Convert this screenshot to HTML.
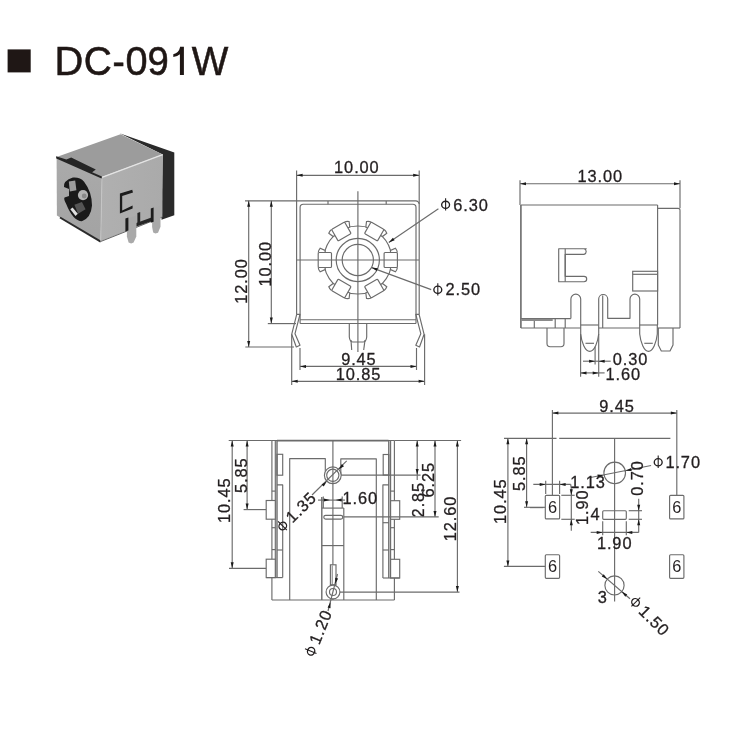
<!DOCTYPE html>
<html><head><meta charset="utf-8"><style>
html,body{margin:0;padding:0;background:#fff;}
svg{display:block;will-change:transform;font-family:"Liberation Sans",sans-serif;}
</style></head><body>
<svg width="750" height="750" viewBox="0 0 750 750">
<rect width="750" height="750" fill="#fff"/>
<rect x="7.6" y="49.4" width="23.1" height="23" fill="#1f1715"/>
<text transform="translate(57.7,75.1) scale(0.9819,1)" x="-3.33" y="0" font-size="40.6" fill="#1f1715" stroke="#1f1715" stroke-width="0.55">D</text>
<text transform="translate(85.7,75.1) scale(0.9572,1)" x="-2.07" y="0" font-size="40.6" fill="#1f1715" stroke="#1f1715" stroke-width="0.55">C</text>
<text transform="translate(114,75.1) scale(0.9048,1)" x="-1.79" y="0" font-size="40.6" fill="#1f1715" stroke="#1f1715" stroke-width="0.55">-</text>
<text transform="translate(127,75.1) scale(0.9790,1)" x="-1.58" y="0" font-size="40.6" fill="#1f1715" stroke="#1f1715" stroke-width="0.55">0</text>
<text transform="translate(149.3,75.1) scale(0.9436,1)" x="-1.91" y="0" font-size="40.6" fill="#1f1715" stroke="#1f1715" stroke-width="0.55">9</text>
<text transform="translate(192,75.1) scale(0.9552,1)" x="-0.16" y="0" font-size="40.6" fill="#1f1715" stroke="#1f1715" stroke-width="0.55">W</text>
<path d="M179.9,46.8 H183.9 V75.1 H179.9 V54.3 Q177.6,56.6 173.3,57 V54.2 Q178.9,53 180.1,47 Z" fill="#1f1715"/>
<defs>
<linearGradient id="gf" x1="0" y1="0" x2="0" y2="1"><stop offset="0" stop-color="#aaaaaa"/><stop offset="1" stop-color="#a3a3a3"/></linearGradient>
<linearGradient id="gr" x1="0" y1="0" x2="1" y2="0"><stop offset="0" stop-color="#b0b0b0"/><stop offset="1" stop-color="#aaaaaa"/></linearGradient>
</defs><g>
<polygon points="119.5,133.3 174.3,152.5 174.3,215.2 161.5,219.8 162.7,154.5" fill="#2a2a2a"/>
<polygon points="56.6,157.1 120.5,134.3 162.7,154.5 102,177" fill="#9c9c9c"/>
<polygon points="56.6,157.1 102,177 100.7,241.3 56.9,215.5" fill="url(#gf)"/>
<polygon points="102,177 162.7,154.5 162.4,216.8 100.7,241.3" fill="url(#gr)"/>
<line x1="102" y1="177.3" x2="162.7" y2="154.7" stroke="#e4e4e4" stroke-width="1.3"/>
<line x1="60" y1="217.5" x2="100.7" y2="241.6" stroke="#2a2a2a" stroke-width="2"/>
<line x1="100.7" y1="241.5" x2="162.4" y2="217" stroke="#666" stroke-width="1"/>
<line x1="102" y1="177.5" x2="100.7" y2="241.3" stroke="#c6c6c6" stroke-width="0.8"/>
<polygon points="56,156.3 66.4,159.4 71.2,157.4 95.8,169.4 92.2,172.2 102,176.6 101.5,178.6 56.3,158.6" fill="#252525"/>
<path d="M72.9,177.6 Q80,177 84.1,181.7 Q92,192 92,205.6 Q91,218 81.9,221.3 Q73,221 66.2,204 Q63.5,199 64.5,197.4 L69,196 L69,189 L64,187 Q63,181 72.9,177.6 Z" fill="#1a1a1a"/>
<polygon points="68.8,181.6 75.2,180.4 76.4,190.2 69.8,191.4" fill="#9c9c9c"/>
<circle cx="83" cy="195.1" r="5.1" fill="#b4b4b4"/>
<circle cx="84.2" cy="196" r="2.4" fill="#8a8a8a"/>
<polygon points="74.4,204.8 81.9,201.9 85.6,209.3 78.1,213.8" fill="#555"/>
<polygon points="70.3,209.3 72.6,207.4 77.8,213.8 75.5,216" fill="#e0e0e0"/>
<polygon points="119.9,193.4 132.2,189.8 133,192.6 122.2,196 122.2,210.4 132.6,205.6 132.6,208.6 119.9,213.6" fill="#1c1c1c"/>
<polygon points="136.3,223 152.1,217.2 152.1,221 136.3,226.6" fill="#262626"/>
<polygon points="137.4,213 140.2,212 140.2,223.6 137.4,224.6" fill="#262626"/>
<polygon points="126.9,219 136.3,215.6 136.3,236.4 133.6,242.6 131.1,243.6 128.6,242.4 126.9,236.4" fill="#a9a9a9"/>
<polygon points="125.4,218.6 128.4,217.6 128.4,230.6 125.4,231.6" fill="#1c1c1c"/>
<polygon points="152.1,209 160.5,206 160.5,226.8 158,232.8 155.4,233.6 153.2,232.4 152.1,226.8" fill="#a9a9a9"/>
<polygon points="150.8,208.6 153.6,207.6 153.6,221.8 150.8,222.8" fill="#1c1c1c"/>
</g>
<line x1="296.6" y1="170.5" x2="296.6" y2="201" stroke="#6b6b6b" stroke-width="1.15"/>
<line x1="419.2" y1="170.5" x2="419.2" y2="204" stroke="#6b6b6b" stroke-width="1.15"/>
<line x1="296.6" y1="175.3" x2="419.2" y2="175.3" stroke="#6b6b6b" stroke-width="1.15"/>
<polygon points="296.60,175.30 302.60,173.80 302.60,176.80" fill="#1a1a1a"/>
<polygon points="419.20,175.30 413.20,176.80 413.20,173.80" fill="#1a1a1a"/>
<text x="334.10" y="172.55" font-size="16.4" letter-spacing="0.9" fill="#231f20" stroke="#231f20" stroke-width="0.3">10.00</text>
<path d="M245,200.8 H415.7 A3.5,3.5 0 0 1 419.2,204.3 V314.3" fill="none" stroke="#6b6b6b" stroke-width="1.15" stroke-linejoin="round"/>
<line x1="296.6" y1="200.8" x2="296.6" y2="314.3" stroke="#6b6b6b" stroke-width="1.15"/>
<path d="M300.1,323.5 V207.4 A3.2,3.2 0 0 1 303.3,204.2 H412.8 A3.2,3.2 0 0 1 416,207.4 V323.5" fill="none" stroke="#6b6b6b" stroke-width="1.15" stroke-linejoin="round"/>
<line x1="300.1" y1="319.7" x2="416" y2="319.7" stroke="#6b6b6b" stroke-width="1.15"/>
<line x1="300.1" y1="323.5" x2="416" y2="323.5" stroke="#6b6b6b" stroke-width="1.15"/>
<line x1="328" y1="201" x2="328" y2="204.2" stroke="#6b6b6b" stroke-width="1.15"/>
<line x1="386.2" y1="201" x2="386.2" y2="204.2" stroke="#6b6b6b" stroke-width="1.15"/>
<polygon points="296.7,314.3 300,314.3 295,333.7 300,345.3 296.3,347 291.7,334.3" fill="none" stroke="#6b6b6b" stroke-width="1.15" stroke-linejoin="round"/>
<polygon points="419.1,314.3 415.8,314.3 420.8,333.7 415.8,345.3 419.5,347 424.1,334.3" fill="none" stroke="#6b6b6b" stroke-width="1.15" stroke-linejoin="round"/>
<line x1="267.8" y1="323.6" x2="296" y2="323.6" stroke="#6b6b6b" stroke-width="1.15"/>
<line x1="245.3" y1="347" x2="294" y2="347" stroke="#6b6b6b" stroke-width="1.15"/>
<line x1="248.7" y1="200.8" x2="248.7" y2="347" stroke="#6b6b6b" stroke-width="1.15"/>
<polygon points="248.70,200.80 250.20,206.80 247.20,206.80" fill="#1a1a1a"/>
<polygon points="248.70,347.00 247.20,341.00 250.20,341.00" fill="#1a1a1a"/>
<line x1="271.3" y1="200.8" x2="271.3" y2="323.6" stroke="#6b6b6b" stroke-width="1.15"/>
<polygon points="271.30,200.80 272.80,206.80 269.80,206.80" fill="#1a1a1a"/>
<polygon points="271.30,323.60 269.80,317.60 272.80,317.60" fill="#1a1a1a"/>
<g transform="translate(241.2,281.1) rotate(-90)">
<text x="-22.62" y="5.72" font-size="16.4" letter-spacing="0.9" fill="#231f20" stroke="#231f20" stroke-width="0.3">12.00</text>
</g>
<g transform="translate(265.1,263.8) rotate(-90)">
<text x="-22.62" y="5.72" font-size="16.4" letter-spacing="0.9" fill="#231f20" stroke="#231f20" stroke-width="0.3">10.00</text>
</g>
<path d="M349.3,323.5 V337 Q349.8,342 353,342 H363 Q366.2,342 366.7,337 V323.5" fill="none" stroke="#6b6b6b" stroke-width="1.15" stroke-linejoin="round"/>
<line x1="351" y1="340" x2="351.7" y2="350" stroke="#6b6b6b" stroke-width="1.15"/>
<line x1="365" y1="340" x2="363.7" y2="350" stroke="#6b6b6b" stroke-width="1.15"/>
<circle cx="357.8" cy="260" r="34" fill="none" stroke="#6b6b6b" stroke-width="1.15"/>
<circle cx="357.8" cy="260" r="21.6" fill="none" stroke="#6b6b6b" stroke-width="1.15"/>
<circle cx="357.8" cy="260" r="15.6" fill="none" stroke="#6b6b6b" stroke-width="1.15"/>
<g transform="translate(357.8,260) rotate(0)"><path d="M32.7,-9.6 L37.7,-11.7 Q40.5,0 37.7,11.7 L32.7,9.6 Z" fill="#fff" stroke="none"/><path d="M32.7,-7.5 V-9.6 L37.7,-11.7 Q39.3,-9.8 39.6,-7.5 M32.7,7.5 V9.6 L37.7,11.7 Q39.3,9.8 39.6,7.5" fill="#fff" stroke="#6b6b6b" stroke-width="1.15"/><rect x="26.3" y="-7.5" width="13.3" height="15" rx="1" fill="#fff" stroke="#6b6b6b" stroke-width="1.15"/></g>
<g transform="translate(357.8,260) rotate(60)"><path d="M32.7,-9.6 L37.7,-11.7 Q40.5,0 37.7,11.7 L32.7,9.6 Z" fill="#fff" stroke="none"/><path d="M32.7,-7.5 V-9.6 L37.7,-11.7 Q39.3,-9.8 39.6,-7.5 M32.7,7.5 V9.6 L37.7,11.7 Q39.3,9.8 39.6,7.5" fill="#fff" stroke="#6b6b6b" stroke-width="1.15"/><rect x="26.3" y="-7.5" width="13.3" height="15" rx="1" fill="#fff" stroke="#6b6b6b" stroke-width="1.15"/></g>
<g transform="translate(357.8,260) rotate(120)"><path d="M32.7,-9.6 L37.7,-11.7 Q40.5,0 37.7,11.7 L32.7,9.6 Z" fill="#fff" stroke="none"/><path d="M32.7,-7.5 V-9.6 L37.7,-11.7 Q39.3,-9.8 39.6,-7.5 M32.7,7.5 V9.6 L37.7,11.7 Q39.3,9.8 39.6,7.5" fill="#fff" stroke="#6b6b6b" stroke-width="1.15"/><rect x="26.3" y="-7.5" width="13.3" height="15" rx="1" fill="#fff" stroke="#6b6b6b" stroke-width="1.15"/></g>
<g transform="translate(357.8,260) rotate(180)"><path d="M32.7,-9.6 L37.7,-11.7 Q40.5,0 37.7,11.7 L32.7,9.6 Z" fill="#fff" stroke="none"/><path d="M32.7,-7.5 V-9.6 L37.7,-11.7 Q39.3,-9.8 39.6,-7.5 M32.7,7.5 V9.6 L37.7,11.7 Q39.3,9.8 39.6,7.5" fill="#fff" stroke="#6b6b6b" stroke-width="1.15"/><rect x="26.3" y="-7.5" width="13.3" height="15" rx="1" fill="#fff" stroke="#6b6b6b" stroke-width="1.15"/></g>
<g transform="translate(357.8,260) rotate(240)"><path d="M32.7,-9.6 L37.7,-11.7 Q40.5,0 37.7,11.7 L32.7,9.6 Z" fill="#fff" stroke="none"/><path d="M32.7,-7.5 V-9.6 L37.7,-11.7 Q39.3,-9.8 39.6,-7.5 M32.7,7.5 V9.6 L37.7,11.7 Q39.3,9.8 39.6,7.5" fill="#fff" stroke="#6b6b6b" stroke-width="1.15"/><rect x="26.3" y="-7.5" width="13.3" height="15" rx="1" fill="#fff" stroke="#6b6b6b" stroke-width="1.15"/></g>
<g transform="translate(357.8,260) rotate(300)"><path d="M32.7,-9.6 L37.7,-11.7 Q40.5,0 37.7,11.7 L32.7,9.6 Z" fill="#fff" stroke="none"/><path d="M32.7,-7.5 V-9.6 L37.7,-11.7 Q39.3,-9.8 39.6,-7.5 M32.7,7.5 V9.6 L37.7,11.7 Q39.3,9.8 39.6,7.5" fill="#fff" stroke="#6b6b6b" stroke-width="1.15"/><rect x="26.3" y="-7.5" width="13.3" height="15" rx="1" fill="#fff" stroke="#6b6b6b" stroke-width="1.15"/></g>
<line x1="357.9" y1="191.3" x2="357.9" y2="352" stroke="#6b6b6b" stroke-width="1.15"/>
<line x1="296.7" y1="260" x2="419" y2="260" stroke="#6b6b6b" stroke-width="1.15"/>
<line x1="438.4" y1="208.8" x2="388.8" y2="242.4" stroke="#6b6b6b" stroke-width="1.15"/>
<polygon points="388.80,242.40 392.93,237.79 394.61,240.28" fill="#1a1a1a"/>
<line x1="431.2" y1="289.6" x2="371.6" y2="267.6" stroke="#6b6b6b" stroke-width="1.15"/>
<polygon points="371.60,267.60 377.75,268.27 376.71,271.08" fill="#1a1a1a"/>
<ellipse cx="445.60" cy="204.80" rx="3.95" ry="3.6" fill="none" stroke="#231f20" stroke-width="1.35"/>
<line x1="445.60" y1="198.20" x2="445.60" y2="210.60" stroke="#231f20" stroke-width="1.1"/>
<text x="453.16" y="210.65" font-size="16.4" letter-spacing="0.9" fill="#231f20" stroke="#231f20" stroke-width="0.3">6.30</text>
<ellipse cx="437.80" cy="289.80" rx="3.95" ry="3.6" fill="none" stroke="#231f20" stroke-width="1.35"/>
<line x1="437.80" y1="283.20" x2="437.80" y2="295.60" stroke="#231f20" stroke-width="1.1"/>
<text x="445.48" y="295.45" font-size="16.4" letter-spacing="0.9" fill="#231f20" stroke="#231f20" stroke-width="0.3">2.50</text>
<line x1="300" y1="348" x2="300" y2="370" stroke="#6b6b6b" stroke-width="1.15"/>
<line x1="416.5" y1="348" x2="416.5" y2="370" stroke="#6b6b6b" stroke-width="1.15"/>
<line x1="291.7" y1="334.3" x2="291.7" y2="385" stroke="#6b6b6b" stroke-width="1.15"/>
<line x1="424.6" y1="334.3" x2="424.6" y2="385" stroke="#6b6b6b" stroke-width="1.15"/>
<line x1="300" y1="366.4" x2="416.5" y2="366.4" stroke="#6b6b6b" stroke-width="1.15"/>
<polygon points="300.00,366.40 306.00,364.90 306.00,367.90" fill="#1a1a1a"/>
<polygon points="416.50,366.40 410.50,367.90 410.50,364.90" fill="#1a1a1a"/>
<line x1="291.7" y1="381.3" x2="424.6" y2="381.3" stroke="#6b6b6b" stroke-width="1.15"/>
<polygon points="291.70,381.30 297.70,379.80 297.70,382.80" fill="#1a1a1a"/>
<polygon points="424.60,381.30 418.60,382.80 418.60,379.80" fill="#1a1a1a"/>
<text x="341.13" y="365.15" font-size="16.4" letter-spacing="0.9" fill="#231f20" stroke="#231f20" stroke-width="0.3">9.45</text>
<text x="335.80" y="380.05" font-size="16.4" letter-spacing="0.9" fill="#231f20" stroke="#231f20" stroke-width="0.3">10.85</text>
<line x1="520" y1="180.3" x2="520" y2="205" stroke="#6b6b6b" stroke-width="1.15"/>
<line x1="680" y1="180.3" x2="680" y2="208.3" stroke="#6b6b6b" stroke-width="1.15"/>
<line x1="520" y1="183.7" x2="680" y2="183.7" stroke="#6b6b6b" stroke-width="1.15"/>
<polygon points="520.00,183.70 526.00,182.20 526.00,185.20" fill="#1a1a1a"/>
<polygon points="680.00,183.70 674.00,185.20 674.00,182.20" fill="#1a1a1a"/>
<text x="577.50" y="182.15" font-size="16.4" letter-spacing="0.9" fill="#231f20" stroke="#231f20" stroke-width="0.3">13.00</text>
<line x1="520.9" y1="205" x2="657.6" y2="205" stroke="#6b6b6b" stroke-width="1.15"/>
<line x1="520.9" y1="205" x2="520.9" y2="328" stroke="#6b6b6b" stroke-width="1.6"/>
<line x1="657.6" y1="205" x2="657.6" y2="325" stroke="#6b6b6b" stroke-width="1.15"/>
<path d="M657.6,208.3 H678 Q680,208.3 680,210.3 V328" fill="none" stroke="#6b6b6b" stroke-width="1.15" stroke-linejoin="round"/>
<path d="M586.7,248.7 H558.7 V281.7 H584 A2.7,2.7 0 0 0 584,276.3 H565.2 V254.4 H584 A2.95,2.95 0 0 0 584,248.7" fill="none" stroke="#6b6b6b" stroke-width="1.15" stroke-linejoin="round"/>
<line x1="565.2" y1="248.7" x2="565.2" y2="281.7" stroke="#6b6b6b" stroke-width="1.15"/>
<rect x="632.7" y="271.3" width="24.90" height="19.70" rx="0" fill="none" stroke="#6b6b6b" stroke-width="1.15"/>
<line x1="632.7" y1="274.3" x2="657.6" y2="274.3" stroke="#6b6b6b" stroke-width="1.15"/>
<line x1="520.9" y1="318.6" x2="570.9" y2="318.6" stroke="#6b6b6b" stroke-width="1.15"/>
<rect x="521" y="318.8" width="31.7" height="2.2" fill="#8a8a8a"/>
<line x1="534.3" y1="321" x2="534.3" y2="328" stroke="#6b6b6b" stroke-width="1.15"/>
<line x1="555.2" y1="318.6" x2="555.2" y2="328" stroke="#6b6b6b" stroke-width="1.15"/>
<line x1="565.2" y1="318.6" x2="565.2" y2="328" stroke="#6b6b6b" stroke-width="1.15"/>
<line x1="520.9" y1="328" x2="580.7" y2="328" stroke="#6b6b6b" stroke-width="1.15"/>
<line x1="598.7" y1="328" x2="639.7" y2="328" stroke="#6b6b6b" stroke-width="1.15"/>
<line x1="657.3" y1="328" x2="680" y2="328" stroke="#6b6b6b" stroke-width="1.15"/>
<path d="M570.9,318.6 V299 A4.9,4.9 0 0 1 580.7,299 V334 C581.5,342 585,351.3 589.7,351.3 C594.4,351.3 597.9,342 598.7,334 V299 A4.5,4.5 0 0 1 607.7,299 V318.3 H630 V299 A4.85,4.85 0 0 1 639.7,299 V334 C640.5,342 644,351.3 648.5,351.3 C653,351.3 656.5,342 657.3,334 V325" fill="none" stroke="#6b6b6b" stroke-width="1.15" stroke-linejoin="round"/>
<line x1="580.7" y1="325" x2="598.7" y2="325" stroke="#6b6b6b" stroke-width="1.15"/>
<line x1="639.7" y1="325" x2="657.6" y2="325" stroke="#6b6b6b" stroke-width="1.15"/>
<line x1="602.7" y1="295.5" x2="602.7" y2="328" stroke="#6b6b6b" stroke-width="1.15"/>
<line x1="585.5" y1="343.3" x2="594" y2="343.3" stroke="#6b6b6b" stroke-width="1.15"/>
<line x1="644.3" y1="343.3" x2="652.8" y2="343.3" stroke="#6b6b6b" stroke-width="1.15"/>
<path d="M547,328 V343.5 A3.2,3.2 0 0 0 550.2,346.7 H560.8 A3.2,3.2 0 0 0 564,343.5 V328" fill="none" stroke="#6b6b6b" stroke-width="1.15" stroke-linejoin="round"/>
<path d="M658.3,328 V345 L661.3,351 H670 L673,345 V328" fill="none" stroke="#6b6b6b" stroke-width="1.15" stroke-linejoin="round"/>
<line x1="580.6" y1="334" x2="580.6" y2="376.7" stroke="#6b6b6b" stroke-width="1.15"/>
<line x1="598.7" y1="334" x2="598.7" y2="376.7" stroke="#6b6b6b" stroke-width="1.15"/>
<line x1="595.1" y1="346.7" x2="595.1" y2="364.5" stroke="#6b6b6b" stroke-width="1.15"/>
<line x1="583" y1="361.2" x2="610.7" y2="361.2" stroke="#6b6b6b" stroke-width="1.15"/>
<polygon points="595.10,361.20 589.10,362.70 589.10,359.70" fill="#1a1a1a"/>
<polygon points="598.70,361.20 604.70,359.70 604.70,362.70" fill="#1a1a1a"/>
<line x1="580.5" y1="372.9" x2="604.6" y2="372.9" stroke="#6b6b6b" stroke-width="1.15"/>
<polygon points="580.50,372.90 586.50,371.40 586.50,374.40" fill="#1a1a1a"/>
<polygon points="598.70,372.90 592.70,374.40 592.70,371.40" fill="#1a1a1a"/>
<text x="612.66" y="365.15" font-size="16.4" letter-spacing="0.9" fill="#231f20" stroke="#231f20" stroke-width="0.3">0.30</text>
<text x="605.50" y="379.75" font-size="16.4" letter-spacing="0.9" fill="#231f20" stroke="#231f20" stroke-width="0.3">1.60</text>
<line x1="228.7" y1="440.5" x2="271.9" y2="440.5" stroke="#6b6b6b" stroke-width="1.15"/>
<line x1="394.4" y1="440.5" x2="461.1" y2="440.5" stroke="#6b6b6b" stroke-width="1.15"/>
<line x1="271.9" y1="440.5" x2="394.4" y2="440.5" stroke="#6b6b6b" stroke-width="1.15"/>
<line x1="277" y1="440.7" x2="388.5" y2="440.7" stroke="#6b6b6b" stroke-width="1.8"/>
<line x1="232.2" y1="440.5" x2="232.2" y2="568.3" stroke="#6b6b6b" stroke-width="1.15"/>
<polygon points="232.20,440.50 233.70,446.50 230.70,446.50" fill="#1a1a1a"/>
<polygon points="232.20,568.30 230.70,562.30 233.70,562.30" fill="#1a1a1a"/>
<line x1="247.1" y1="440.5" x2="247.1" y2="509.6" stroke="#6b6b6b" stroke-width="1.15"/>
<polygon points="247.10,440.50 248.60,446.50 245.60,446.50" fill="#1a1a1a"/>
<polygon points="247.10,509.60 245.60,503.60 248.60,503.60" fill="#1a1a1a"/>
<line x1="243.6" y1="509.6" x2="266.2" y2="509.6" stroke="#6b6b6b" stroke-width="1.15"/>
<line x1="229" y1="568.3" x2="266.2" y2="568.3" stroke="#6b6b6b" stroke-width="1.15"/>
<g transform="translate(224.0,500.5) rotate(-90)">
<text x="-22.60" y="5.72" font-size="16.4" letter-spacing="0.9" fill="#231f20" stroke="#231f20" stroke-width="0.3">10.45</text>
</g>
<g transform="translate(241.0,475.6) rotate(-90)">
<text x="-17.29" y="5.72" font-size="16.4" letter-spacing="0.9" fill="#231f20" stroke="#231f20" stroke-width="0.3">5.85</text>
</g>
<line x1="417.2" y1="440.5" x2="417.2" y2="475" stroke="#6b6b6b" stroke-width="1.15"/>
<polygon points="417.20,440.50 418.70,446.50 415.70,446.50" fill="#1a1a1a"/>
<polygon points="417.20,475.00 415.70,469.00 418.70,469.00" fill="#1a1a1a"/>
<line x1="435" y1="440.5" x2="435" y2="517" stroke="#6b6b6b" stroke-width="1.15"/>
<polygon points="435.00,440.50 436.50,446.50 433.50,446.50" fill="#1a1a1a"/>
<polygon points="435.00,517.00 433.50,511.00 436.50,511.00" fill="#1a1a1a"/>
<line x1="457.4" y1="440.5" x2="457.4" y2="592.1" stroke="#6b6b6b" stroke-width="1.15"/>
<polygon points="457.40,440.50 458.90,446.50 455.90,446.50" fill="#1a1a1a"/>
<polygon points="457.40,592.10 455.90,586.10 458.90,586.10" fill="#1a1a1a"/>
<line x1="417.2" y1="475" x2="417.2" y2="480" stroke="#6b6b6b" stroke-width="1.15"/>
<g transform="translate(418.2,500) rotate(-90)">
<text x="-17.38" y="5.72" font-size="16.4" letter-spacing="0.9" fill="#231f20" stroke="#231f20" stroke-width="0.3">2.85</text>
</g>
<g transform="translate(428.2,480.2) rotate(-90)">
<text x="-17.38" y="5.72" font-size="16.4" letter-spacing="0.9" fill="#231f20" stroke="#231f20" stroke-width="0.3">6.25</text>
</g>
<g transform="translate(450.7,518.6) rotate(-90)">
<text x="-22.62" y="5.72" font-size="16.4" letter-spacing="0.9" fill="#231f20" stroke="#231f20" stroke-width="0.3">12.60</text>
</g>
<line x1="271.9" y1="440.5" x2="271.9" y2="600" stroke="#6b6b6b" stroke-width="1.15"/>
<line x1="275.3" y1="440.5" x2="275.3" y2="577.6" stroke="#6b6b6b" stroke-width="1.15"/>
<line x1="271.9" y1="491.1" x2="275.3" y2="491.1" stroke="#6b6b6b" stroke-width="1.15"/>
<line x1="271.9" y1="527.7" x2="275.3" y2="527.7" stroke="#6b6b6b" stroke-width="1.15"/>
<line x1="271.9" y1="549.6" x2="275.3" y2="549.6" stroke="#6b6b6b" stroke-width="1.15"/>
<rect x="266.2" y="500.5" width="9.10" height="18.70" rx="0" fill="#fff" stroke="#6b6b6b" stroke-width="1.15"/>
<rect x="266.2" y="559.2" width="9.10" height="18.40" rx="0" fill="#fff" stroke="#6b6b6b" stroke-width="1.15"/>
<line x1="277" y1="440.7" x2="277" y2="577.6" stroke="#6b6b6b" stroke-width="1.4"/>
<rect x="277" y="454.3" width="5.70" height="20.90" rx="0" fill="none" stroke="#6b6b6b" stroke-width="1.15"/>
<path d="M277,484.9 H282.7 V577.6" fill="none" stroke="#6b6b6b" stroke-width="1.15" stroke-linejoin="round"/>
<line x1="266.2" y1="577.6" x2="282.7" y2="577.6" stroke="#6b6b6b" stroke-width="1.15"/>
<line x1="277" y1="550" x2="282.7" y2="550" stroke="#6b6b6b" stroke-width="1.15"/>
<line x1="394.4" y1="440.5" x2="394.4" y2="600" stroke="#6b6b6b" stroke-width="1.15"/>
<line x1="390.6" y1="440.5" x2="390.6" y2="578" stroke="#6b6b6b" stroke-width="1.15"/>
<line x1="390.6" y1="491.1" x2="394.4" y2="491.1" stroke="#6b6b6b" stroke-width="1.15"/>
<line x1="390.6" y1="527.7" x2="394.4" y2="527.7" stroke="#6b6b6b" stroke-width="1.15"/>
<line x1="390.6" y1="549.6" x2="394.4" y2="549.6" stroke="#6b6b6b" stroke-width="1.15"/>
<rect x="390.6" y="500.7" width="9.10" height="18.60" rx="0" fill="#fff" stroke="#6b6b6b" stroke-width="1.15"/>
<rect x="390.6" y="559.3" width="9.10" height="18.70" rx="0" fill="#fff" stroke="#6b6b6b" stroke-width="1.15"/>
<line x1="388.8" y1="440.7" x2="388.8" y2="578" stroke="#6b6b6b" stroke-width="1.4"/>
<rect x="383.2" y="454.5" width="5.60" height="20.50" rx="0" fill="none" stroke="#6b6b6b" stroke-width="1.15"/>
<path d="M388.8,484.9 H382.9 V578" fill="none" stroke="#6b6b6b" stroke-width="1.15" stroke-linejoin="round"/>
<line x1="382.9" y1="578" x2="399.7" y2="578" stroke="#6b6b6b" stroke-width="1.15"/>
<line x1="382.9" y1="522.7" x2="388.8" y2="522.7" stroke="#6b6b6b" stroke-width="1.15"/>
<line x1="382.9" y1="550" x2="388.8" y2="550" stroke="#6b6b6b" stroke-width="1.15"/>
<line x1="271.9" y1="600" x2="394.4" y2="600" stroke="#6b6b6b" stroke-width="1.15"/>
<path d="M289.7,600 V458.6 H325.3 V471.5" fill="none" stroke="#6b6b6b" stroke-width="1.15" stroke-linejoin="round"/>
<path d="M376.3,600 V458.8 H340.8 V475.3" fill="none" stroke="#6b6b6b" stroke-width="1.15" stroke-linejoin="round"/>
<line x1="340.8" y1="475.1" x2="420.6" y2="475.1" stroke="#6b6b6b" stroke-width="1.15"/>
<line x1="332.9" y1="440.5" x2="332.9" y2="600" stroke="#6b6b6b" stroke-width="1.15"/>
<circle cx="332.8" cy="475.3" r="8.4" fill="#fff" stroke="#6b6b6b" stroke-width="1.15"/>
<circle cx="332.8" cy="475.3" r="6.1" fill="none" stroke="#6b6b6b" stroke-width="1.15"/>
<line x1="332.9" y1="467" x2="332.9" y2="483.5" stroke="#6b6b6b" stroke-width="1.15"/>
<line x1="346.7" y1="460.9" x2="312" y2="495" stroke="#6b6b6b" stroke-width="1.15"/>
<polygon points="326.90,481.20 323.72,486.50 321.60,484.38" fill="#1a1a1a"/>
<polygon points="338.70,469.40 341.88,464.10 344.00,466.22" fill="#1a1a1a"/>
<g transform="translate(295.9,512.4) rotate(-45)">
<ellipse cx="-18.89" cy="0.32" rx="3.95" ry="3.6" fill="none" stroke="#231f20" stroke-width="1.35"/>
<line x1="-18.89" y1="-6.28" x2="-18.89" y2="6.12" stroke="#231f20" stroke-width="1.1"/>
<text x="-10.44" y="5.72" font-size="16.4" letter-spacing="0.9" fill="#231f20" stroke="#231f20" stroke-width="0.3">1.35</text>
</g>
<line x1="321.8" y1="497" x2="321.8" y2="600" stroke="#6b6b6b" stroke-width="1.4"/>
<line x1="343.8" y1="508.1" x2="343.8" y2="600" stroke="#6b6b6b" stroke-width="1.15"/>
<line x1="321.8" y1="508.1" x2="343.8" y2="508.1" stroke="#6b6b6b" stroke-width="1.15"/>
<rect x="323.8" y="515.3" width="18.90" height="3.80" rx="1.8" fill="none" stroke="#6b6b6b" stroke-width="1.15"/>
<line x1="343.8" y1="516.9" x2="438.7" y2="516.9" stroke="#6b6b6b" stroke-width="1.15"/>
<line x1="321.9" y1="545.6" x2="343.8" y2="545.6" stroke="#6b6b6b" stroke-width="1.15"/>
<line x1="323.3" y1="496.4" x2="323.3" y2="508" stroke="#6b6b6b" stroke-width="1.15"/>
<line x1="342.2" y1="496.4" x2="342.2" y2="508" stroke="#6b6b6b" stroke-width="1.15"/>
<line x1="318" y1="500.1" x2="345" y2="500.1" stroke="#6b6b6b" stroke-width="1.15"/>
<polygon points="329.90,500.10 323.90,501.60 323.90,498.60" fill="#1a1a1a"/>
<polygon points="335.70,500.10 341.70,498.60 341.70,501.60" fill="#1a1a1a"/>
<text x="342.50" y="504.05" font-size="16.4" letter-spacing="0.9" fill="#231f20" stroke="#231f20" stroke-width="0.3">1.60</text>
<rect x="330.4" y="564.8" width="5.60" height="20.00" rx="0" fill="#fff" stroke="#6b6b6b" stroke-width="1.15"/>
<line x1="332.2" y1="565.5" x2="332.2" y2="584.5" stroke="#6b6b6b" stroke-width="0.9"/>
<circle cx="333" cy="592" r="6.9" fill="#fff" stroke="#6b6b6b" stroke-width="1.15"/>
<circle cx="333" cy="592" r="3.5" fill="none" stroke="#6b6b6b" stroke-width="1.15"/>
<line x1="340" y1="592.1" x2="459.5" y2="592.1" stroke="#6b6b6b" stroke-width="1.15"/>
<line x1="337.5" y1="574" x2="328" y2="611" stroke="#6b6b6b" stroke-width="1.15"/>
<polygon points="335.20,584.00 335.20,577.82 338.11,578.54" fill="#1a1a1a"/>
<polygon points="330.50,602.00 330.50,608.18 327.59,607.46" fill="#1a1a1a"/>
<g transform="translate(317.9,633.6) rotate(-68)">
<ellipse cx="-18.91" cy="0.32" rx="3.95" ry="3.6" fill="none" stroke="#231f20" stroke-width="1.35"/>
<line x1="-18.91" y1="-6.28" x2="-18.91" y2="6.12" stroke="#231f20" stroke-width="1.1"/>
<text x="-10.46" y="5.72" font-size="16.4" letter-spacing="0.9" fill="#231f20" stroke="#231f20" stroke-width="0.3">1.20</text>
</g>
<line x1="552.4" y1="410" x2="552.4" y2="495.3" stroke="#6b6b6b" stroke-width="1.15"/>
<line x1="676.8" y1="410" x2="676.8" y2="495.3" stroke="#6b6b6b" stroke-width="1.15"/>
<line x1="552.4" y1="413.1" x2="676.8" y2="413.1" stroke="#6b6b6b" stroke-width="1.15"/>
<polygon points="552.40,413.10 558.40,411.60 558.40,414.60" fill="#1a1a1a"/>
<polygon points="676.80,413.10 670.80,414.60 670.80,411.60" fill="#1a1a1a"/>
<text x="599.23" y="412.05" font-size="16.4" letter-spacing="0.9" fill="#231f20" stroke="#231f20" stroke-width="0.3">9.45</text>
<line x1="504" y1="438.3" x2="556.5" y2="438.3" stroke="#6b6b6b" stroke-width="1.15"/>
<line x1="559.2" y1="438.3" x2="670.4" y2="438.3" stroke="#6b6b6b" stroke-width="1.15"/>
<line x1="507.9" y1="438.3" x2="507.9" y2="566.4" stroke="#6b6b6b" stroke-width="1.15"/>
<polygon points="507.90,438.30 509.40,444.30 506.40,444.30" fill="#1a1a1a"/>
<polygon points="507.90,566.40 506.40,560.40 509.40,560.40" fill="#1a1a1a"/>
<line x1="526.6" y1="438.3" x2="526.6" y2="507.3" stroke="#6b6b6b" stroke-width="1.15"/>
<polygon points="526.60,438.30 528.10,444.30 525.10,444.30" fill="#1a1a1a"/>
<polygon points="526.60,507.30 525.10,501.30 528.10,501.30" fill="#1a1a1a"/>
<line x1="524" y1="507.3" x2="545.3" y2="507.3" stroke="#6b6b6b" stroke-width="1.15"/>
<line x1="503.9" y1="566.4" x2="545.3" y2="566.4" stroke="#6b6b6b" stroke-width="1.15"/>
<g transform="translate(500.0,501.3) rotate(-90)">
<text x="-22.60" y="5.72" font-size="16.4" letter-spacing="0.9" fill="#231f20" stroke="#231f20" stroke-width="0.3">10.45</text>
</g>
<g transform="translate(519.7,473.7) rotate(-90)">
<text x="-17.29" y="5.72" font-size="16.4" letter-spacing="0.9" fill="#231f20" stroke="#231f20" stroke-width="0.3">5.85</text>
</g>
<line x1="614.6" y1="438.3" x2="614.6" y2="601.6" stroke="#6b6b6b" stroke-width="1.15"/>
<circle cx="614.7" cy="472.9" r="10.8" fill="none" stroke="#6b6b6b" stroke-width="1.15"/>
<line x1="589.3" y1="477.7" x2="651.1" y2="465.5" stroke="#6b6b6b" stroke-width="1.15"/>
<polygon points="603.60,474.90 598.00,477.53 597.42,474.59" fill="#1a1a1a"/>
<polygon points="625.50,470.70 631.10,468.07 631.68,471.01" fill="#1a1a1a"/>
<ellipse cx="658.20" cy="462.20" rx="3.95" ry="3.6" fill="none" stroke="#231f20" stroke-width="1.35"/>
<line x1="658.20" y1="455.60" x2="658.20" y2="468.00" stroke="#231f20" stroke-width="1.1"/>
<text x="665.40" y="468.05" font-size="16.4" letter-spacing="0.9" fill="#231f20" stroke="#231f20" stroke-width="0.3">1.70</text>
<g transform="translate(637.5,478.5) rotate(-90)">
<text x="-17.31" y="5.72" font-size="16.4" letter-spacing="0.9" fill="#231f20" stroke="#231f20" stroke-width="0.3">0.70</text>
</g>
<line x1="545.7" y1="480.7" x2="545.7" y2="494" stroke="#6b6b6b" stroke-width="1.15"/>
<line x1="559.6" y1="480.7" x2="559.6" y2="494" stroke="#6b6b6b" stroke-width="1.15"/>
<line x1="533.3" y1="484.4" x2="570.7" y2="484.4" stroke="#6b6b6b" stroke-width="1.15"/>
<polygon points="545.70,484.40 539.70,485.90 539.70,482.90" fill="#1a1a1a"/>
<polygon points="559.60,484.40 565.60,482.90 565.60,485.90" fill="#1a1a1a"/>
<line x1="570.7" y1="484.4" x2="571.3" y2="488.7" stroke="#6b6b6b" stroke-width="1.15"/>
<text x="570.20" y="488.45" font-size="16.4" letter-spacing="0.9" fill="#231f20" stroke="#231f20" stroke-width="0.3">1.13</text>
<rect x="545.3" y="495.3" width="14.30" height="23.60" rx="1" fill="none" stroke="#6b6b6b" stroke-width="1.15"/>
<text x="552.45" y="512.50" text-anchor="middle" font-size="16.4" fill="#231f20">6</text>
<rect x="669.6" y="495.3" width="14.30" height="23.60" rx="1" fill="none" stroke="#6b6b6b" stroke-width="1.15"/>
<text x="676.75" y="512.50" text-anchor="middle" font-size="16.4" fill="#231f20">6</text>
<rect x="545.3" y="554.7" width="14.30" height="23.60" rx="1" fill="none" stroke="#6b6b6b" stroke-width="1.15"/>
<text x="552.45" y="571.90" text-anchor="middle" font-size="16.4" fill="#231f20">6</text>
<rect x="669.6" y="554.7" width="14.30" height="23.60" rx="1" fill="none" stroke="#6b6b6b" stroke-width="1.15"/>
<text x="676.75" y="571.90" text-anchor="middle" font-size="16.4" fill="#231f20">6</text>
<line x1="530" y1="507.6" x2="543.3" y2="507.6" stroke="#6b6b6b" stroke-width="1.15"/>
<line x1="561.3" y1="495.3" x2="574.7" y2="495.3" stroke="#6b6b6b" stroke-width="1.15"/>
<line x1="561.3" y1="519.3" x2="574.7" y2="519.3" stroke="#6b6b6b" stroke-width="1.15"/>
<line x1="571.3" y1="488.7" x2="571.3" y2="530.7" stroke="#6b6b6b" stroke-width="1.15"/>
<polygon points="571.30,495.30 569.80,489.30 572.80,489.30" fill="#1a1a1a"/>
<polygon points="571.30,519.30 572.80,525.30 569.80,525.30" fill="#1a1a1a"/>
<g transform="translate(582.1,507.3) rotate(-90)">
<text x="-17.61" y="5.72" font-size="16.4" letter-spacing="0.9" fill="#231f20" stroke="#231f20" stroke-width="0.3">1.90</text>
</g>
<text x="590.62" y="520.05" font-size="16.4" letter-spacing="0.9" fill="#231f20" stroke="#231f20" stroke-width="0.3">4</text>
<rect x="602.7" y="510.7" width="23.60" height="8.60" rx="1" fill="none" stroke="#6b6b6b" stroke-width="1.15"/>
<line x1="602.7" y1="521.2" x2="602.7" y2="535.3" stroke="#6b6b6b" stroke-width="1.15"/>
<line x1="626.3" y1="521.2" x2="626.3" y2="535.3" stroke="#6b6b6b" stroke-width="1.15"/>
<line x1="590.7" y1="532.4" x2="638.7" y2="532.4" stroke="#6b6b6b" stroke-width="1.15"/>
<polygon points="602.70,532.40 596.70,533.90 596.70,530.90" fill="#1a1a1a"/>
<polygon points="626.30,532.40 632.30,530.90 632.30,533.90" fill="#1a1a1a"/>
<text x="596.90" y="549.15" font-size="16.4" letter-spacing="0.9" fill="#231f20" stroke="#231f20" stroke-width="0.3">1.90</text>
<line x1="628.7" y1="510.7" x2="642" y2="510.7" stroke="#6b6b6b" stroke-width="1.15"/>
<line x1="628.7" y1="519.3" x2="642" y2="519.3" stroke="#6b6b6b" stroke-width="1.15"/>
<line x1="638.7" y1="498.7" x2="638.7" y2="532.4" stroke="#6b6b6b" stroke-width="1.15"/>
<polygon points="638.70,510.70 637.20,504.70 640.20,504.70" fill="#1a1a1a"/>
<polygon points="638.70,519.30 640.20,525.30 637.20,525.30" fill="#1a1a1a"/>
<circle cx="614.5" cy="585.4" r="9.6" fill="none" stroke="#6b6b6b" stroke-width="1.15"/>
<line x1="598.3" y1="571.4" x2="630" y2="598.8" stroke="#6b6b6b" stroke-width="1.15"/>
<polygon points="607.30,579.20 601.78,576.41 603.74,574.14" fill="#1a1a1a"/>
<polygon points="621.70,591.60 627.22,594.39 625.26,596.66" fill="#1a1a1a"/>
<text x="597.68" y="602.95" font-size="16.4" letter-spacing="0.9" fill="#231f20" stroke="#231f20" stroke-width="0.3">3</text>
<g transform="translate(649.2,615.6) rotate(45)">
<ellipse cx="-19.01" cy="0.32" rx="3.95" ry="3.6" fill="none" stroke="#231f20" stroke-width="1.35"/>
<line x1="-19.01" y1="-6.28" x2="-19.01" y2="6.12" stroke="#231f20" stroke-width="1.1"/>
<text x="-10.36" y="5.72" font-size="16.4" letter-spacing="0.9" fill="#231f20" stroke="#231f20" stroke-width="0.3">1.50</text>
</g>
</svg></body></html>
